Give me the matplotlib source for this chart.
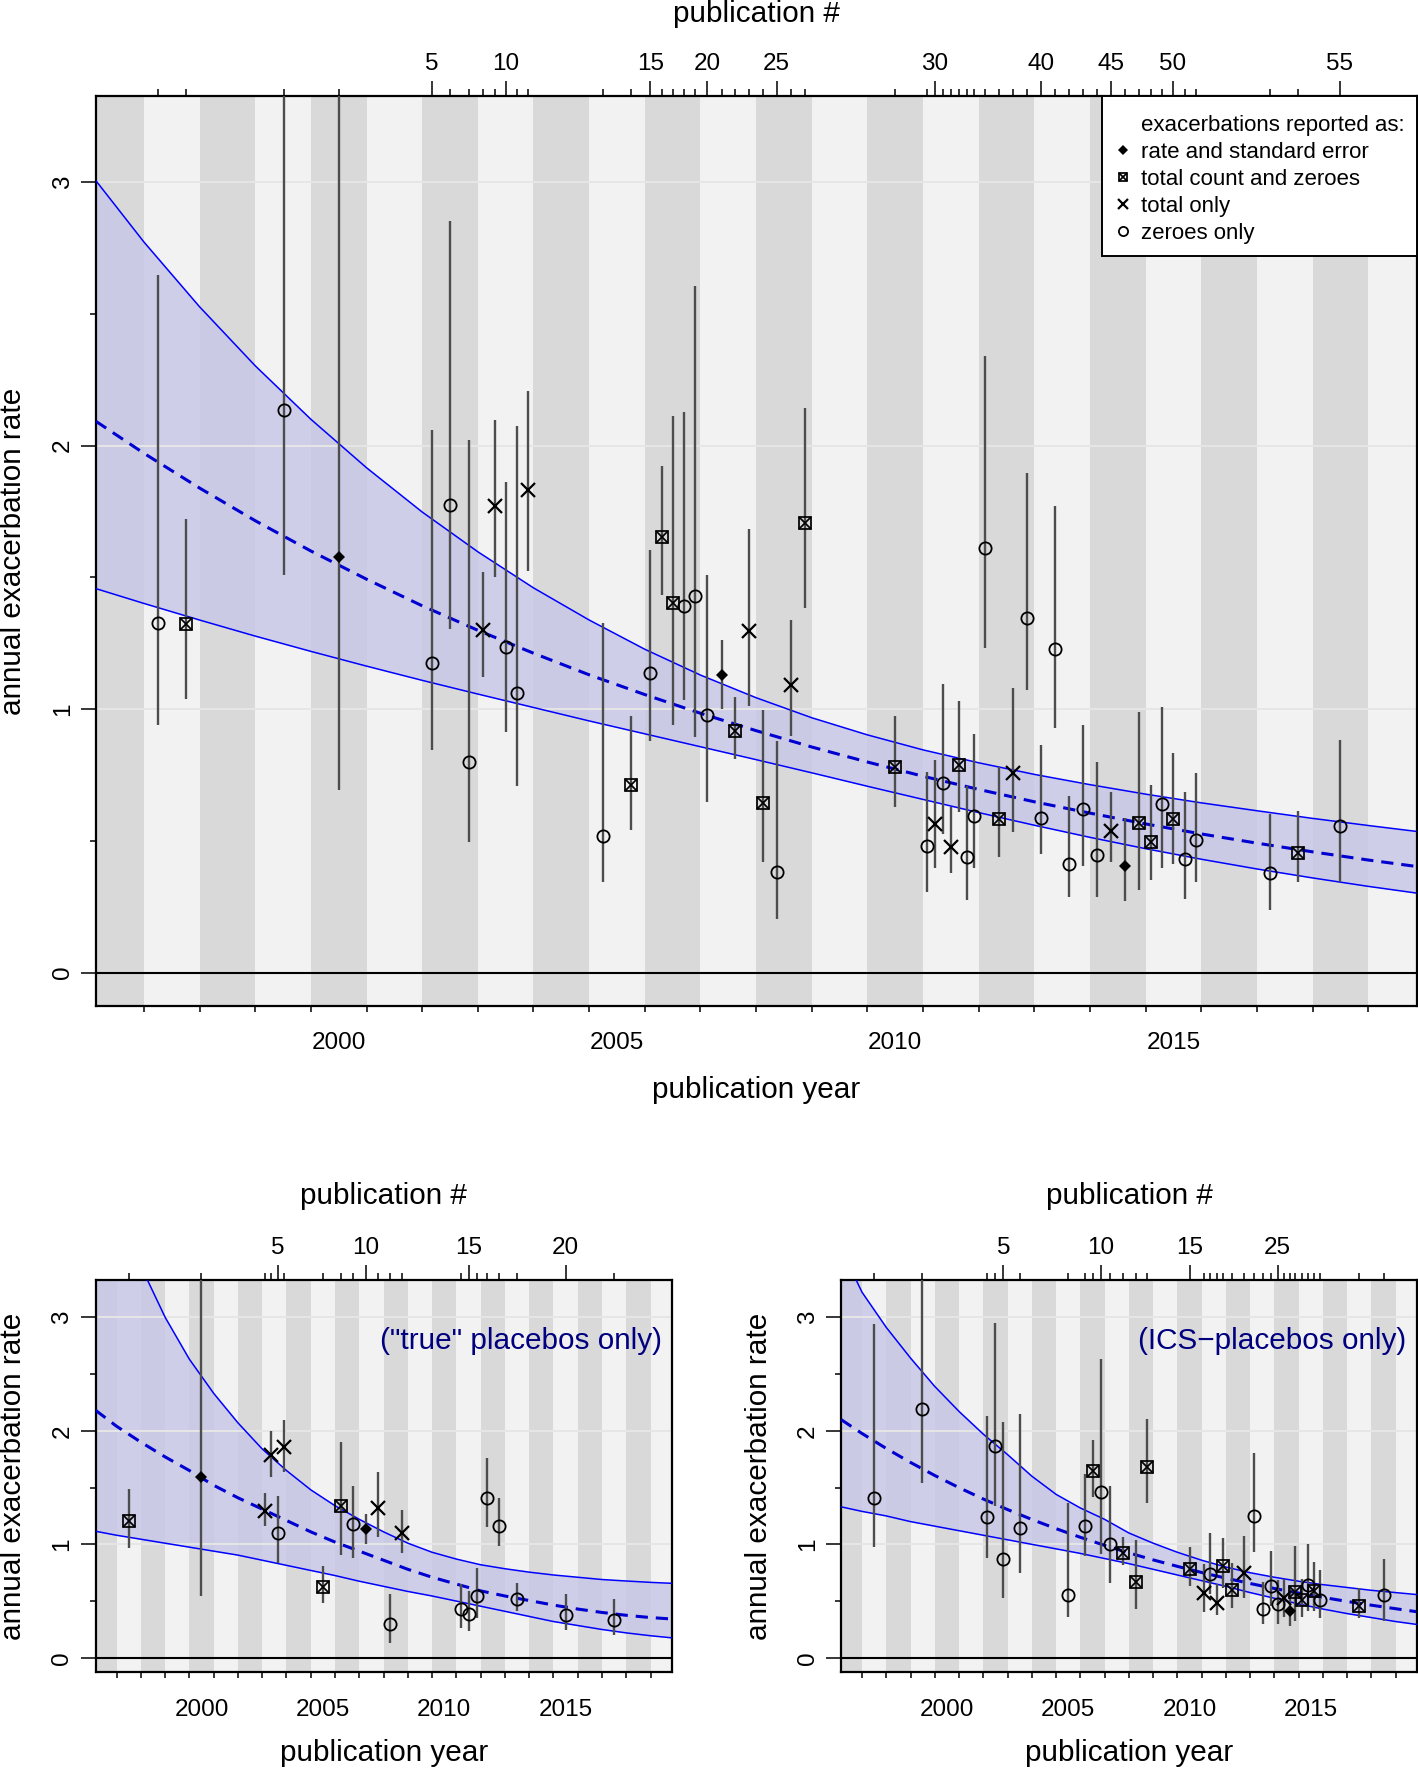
import matplotlib
matplotlib.use("Agg")
import matplotlib.pyplot as plt
from matplotlib.lines import Line2D
from matplotlib.patches import Rectangle

plt.rcParams["font.family"] = ["Liberation Sans", "DejaVu Sans"]

curve_year = [1996.14, 1997, 1998, 1999, 2000, 2001, 2002, 2003, 2004, 2005, 2006,
              2007, 2008, 2009, 2010, 2011, 2012, 2013, 2014, 2015, 2016, 2017,
              2018, 2019, 2019.85]

# ---- all placebo arms (top panel) ----
all_year = [1997.26, 1997.75, 1999.51, 2000.50, 2002.17, 2002.50, 2002.84, 2003.10,
            2003.31, 2003.50, 2003.71, 2003.90, 2005.25, 2005.75, 2006.10, 2006.30,
            2006.50, 2006.70, 2006.90, 2007.12, 2007.38, 2007.62, 2007.88, 2008.12,
            2008.37, 2008.62, 2008.88, 2010.50, 2011.07, 2011.21, 2011.36, 2011.50,
            2011.64, 2011.78, 2011.92, 2012.12, 2012.37, 2012.62, 2012.87, 2013.12,
            2013.37, 2013.62, 2013.87, 2014.12, 2014.37, 2014.62, 2014.87, 2015.09,
            2015.30, 2015.49, 2015.70, 2015.90, 2017.24, 2017.74, 2018.49]
all_rate = [1.326, 1.321, 2.134, 1.576, 1.175, 1.776, 0.799, 1.299, 1.771, 1.236, 1.060,
            1.832, 0.520, 0.713, 1.137, 1.654, 1.402, 1.391, 1.431, 0.979, 1.128, 0.918,
            1.296, 0.644, 0.383, 1.092, 1.706, 0.781, 0.479, 0.563, 0.718, 0.477, 0.788,
            0.437, 0.596, 1.612, 0.583, 0.759, 1.344, 0.587, 1.227, 0.412, 0.621, 0.446,
            0.536, 0.405, 0.569, 0.495, 0.641, 0.583, 0.430, 0.502, 0.376, 0.452, 0.558]
all_lo = [0.939, 1.038, 1.508, 0.691, 0.844, 1.303, 0.495, 1.121, 1.501, 0.912, 0.709,
          1.524, 0.344, 0.540, 0.878, 1.434, 0.939, 1.035, 0.894, 0.648, 1.002, 0.810,
          1.013, 0.421, 0.203, 0.896, 1.384, 0.630, 0.304, 0.398, 0.524, 0.376, 0.608,
          0.275, 0.398, 1.233, 0.439, 0.533, 1.074, 0.450, 0.930, 0.288, 0.405, 0.288,
          0.421, 0.270, 0.315, 0.353, 0.398, 0.412, 0.281, 0.342, 0.236, 0.344, 0.342]
all_hi = [2.649, 1.722, 3.900, 3.900, 2.059, 2.852, 2.021, 1.519, 2.098, 1.861, 2.075,
          2.208, 1.328, 0.975, 1.605, 1.924, 2.111, 2.127, 2.604, 1.508, 1.263, 1.044,
          1.684, 0.997, 0.878, 1.339, 2.143, 0.975, 0.763, 0.808, 1.096, 0.630, 1.029,
          0.709, 0.905, 2.341, 0.781, 1.080, 1.897, 0.862, 1.771, 0.671, 0.939, 0.799,
          0.686, 0.585, 0.988, 0.713, 1.008, 0.833, 0.686, 0.759, 0.603, 0.612, 0.882]
all_kind = list("obodo" "ooxxo" "oxobo" "bbooo" "dbxbo" "xbbox"
                "oxboo" "obxoo" "oooox" "dbbob" "ooobo")
all_upper = [3.005, 2.773, 2.527, 2.303, 2.100, 1.916, 1.748, 1.597, 1.460, 1.338, 1.227,
             1.129, 1.043, 0.967, 0.902, 0.845, 0.796, 0.752, 0.713, 0.677, 0.644, 0.614,
             0.585, 0.558, 0.536]
all_mid = [2.092, 1.971, 1.839, 1.715, 1.600, 1.493, 1.392, 1.299, 1.212, 1.130, 1.055,
           0.984, 0.918, 0.856, 0.799, 0.745, 0.695, 0.648, 0.605, 0.564, 0.526, 0.491,
           0.458, 0.427, 0.403]
all_lower = [1.457, 1.401, 1.338, 1.277, 1.219, 1.163, 1.109, 1.057, 1.006, 0.955, 0.906,
             0.857, 0.808, 0.758, 0.707, 0.657, 0.607, 0.559, 0.513, 0.470, 0.430, 0.393,
             0.359, 0.327, 0.302]
all_labelled = [5, 10, 15, 20, 25, 30, 40, 45, 50, 55]

# ---- "true" placebos only (bottom left) ----
true_year = [1997.51, 2000.47, 2003.12, 2003.36, 2003.63, 2003.90, 2005.52, 2006.26,
             2006.75, 2007.26, 2007.76, 2008.25, 2008.75, 2011.17, 2011.51, 2011.83,
             2012.26, 2012.74, 2013.49, 2015.50, 2017.51]
true_rate = [1.202, 1.591, 1.297, 1.789, 1.096, 1.857, 0.625, 1.335, 1.179, 1.132, 1.320,
             0.295, 1.099, 0.427, 0.383, 0.545, 1.409, 1.164, 0.522, 0.377, 0.330]
true_lo = [0.967, 0.545, 1.158, 1.597, 0.837, 1.636, 0.486, 0.908, 0.878, 1.002, 1.067,
           0.133, 0.925, 0.265, 0.236, 0.354, 1.149, 0.987, 0.413, 0.242, 0.200]
true_hi = [1.485, 3.900, 1.450, 1.998, 1.426, 2.098, 0.808, 1.898, 1.518, 1.267, 1.633,
           0.566, 1.303, 0.654, 0.589, 0.790, 1.762, 1.409, 0.663, 0.566, 0.516]
true_kind = list("bdxxo" "xbbod" "xoxoo" "oooooo")
true_upper = [4.300, 3.900, 3.450, 3.000, 2.630, 2.330, 2.070, 1.840, 1.650, 1.480, 1.340,
              1.220, 1.110, 1.010, 0.930, 0.870, 0.820, 0.785, 0.755, 0.730, 0.710, 0.690,
              0.677, 0.665, 0.657]
true_mid = [2.180, 2.040, 1.900, 1.770, 1.650, 1.520, 1.410, 1.310, 1.210, 1.110, 1.020,
            0.940, 0.860, 0.780, 0.710, 0.650, 0.590, 0.545, 0.505, 0.465, 0.430, 0.400,
            0.375, 0.355, 0.343]
true_lower = [1.115, 1.080, 1.045, 1.010, 0.975, 0.940, 0.905, 0.860, 0.815, 0.770, 0.725,
              0.675, 0.630, 0.585, 0.545, 0.500, 0.455, 0.410, 0.365, 0.320, 0.285, 0.250,
              0.220, 0.195, 0.177]
true_labelled = [5, 10, 15, 20]

# ---- ICS-placebos only (bottom right) ----
ics_year = [1997.49, 1999.49, 2002.17, 2002.49, 2002.83, 2003.51, 2005.51, 2006.18,
            2006.52, 2006.84, 2007.24, 2007.76, 2008.28, 2008.76, 2010.50, 2011.10,
            2011.36, 2011.63, 2011.87, 2012.24, 2012.76, 2013.16, 2013.51, 2013.85,
            2014.13, 2014.40, 2014.63, 2014.86, 2015.12, 2015.37, 2015.63, 2015.88,
            2017.49, 2018.51]
ics_rate = [1.406, 2.196, 1.244, 1.866, 0.869, 1.144, 0.557, 1.158, 1.645, 1.465, 0.999,
            0.928, 0.672, 1.680, 0.781, 0.569, 0.743, 0.483, 0.805, 0.598, 0.746, 1.250,
            0.427, 0.634, 0.472, 0.525, 0.413, 0.581, 0.507, 0.642, 0.589, 0.507, 0.457,
            0.551]
ics_lo = [0.973, 1.538, 0.884, 1.341, 0.525, 0.749, 0.360, 0.893, 1.421, 0.914, 0.663,
          0.816, 0.433, 1.362, 0.634, 0.404, 0.560, 0.374, 0.619, 0.442, 0.530, 0.934,
          0.295, 0.457, 0.295, 0.360, 0.280, 0.324, 0.360, 0.413, 0.413, 0.348, 0.348,
          0.324]
ics_hi = [2.938, 3.900, 2.131, 2.947, 2.078, 2.151, 1.365, 1.621, 1.916, 2.635, 1.518,
          1.061, 1.040, 2.107, 0.978, 0.831, 1.099, 0.648, 1.055, 0.840, 1.070, 1.807,
          0.672, 0.943, 0.684, 0.693, 0.619, 0.981, 0.693, 1.002, 0.846, 0.772, 0.619,
          0.869]
ics_kind = list("ooooo" "ooobo" "obbbb" "xoxbb" "xoooo" "xdbbo" "bobo")
ics_upper = [3.600, 3.220, 2.910, 2.640, 2.390, 2.170, 1.970, 1.790, 1.600, 1.440, 1.320,
             1.220, 1.100, 1.010, 0.930, 0.860, 0.800, 0.750, 0.710, 0.675, 0.645, 0.620,
             0.595, 0.575, 0.558]
ics_mid = [2.098, 1.976, 1.844, 1.721, 1.606, 1.499, 1.399, 1.306, 1.219, 1.138, 1.062,
           0.991, 0.925, 0.863, 0.806, 0.752, 0.702, 0.655, 0.611, 0.571, 0.533, 0.497,
           0.464, 0.433, 0.407]
ics_lower = [1.330, 1.290, 1.250, 1.200, 1.160, 1.120, 1.080, 1.040, 1.000, 0.960, 0.920,
             0.875, 0.830, 0.780, 0.730, 0.680, 0.630, 0.575, 0.525, 0.475, 0.430, 0.390,
             0.355, 0.320, 0.295]
ics_labelled = [5, 10, 15, 25]

W, H = 1418, 1770
DARK, LIGHT = "#d9d9d9", "#f2f2f2"
BAND = "#c8c8e8"
GRID = "#e6e6e6"
BLUE = "#0000ff"
WHISK = "#4d4d4d"
XLIM = (1996.14, 2019.87)
YLIM = (-0.127, 3.328)
TICK_FS = 17.5
LAB_FS = 21.4

MARK = {
    "d": [dict(marker="D", ms=6.2, mfc="black", mec="black", mew=0)],
    "o": [dict(marker="o", ms=8.8, mfc="none", mec="black", mew=1.3)],
    "x": [dict(marker="x", ms=10.0, mec="black", mew=1.6)],
    "b": [dict(marker="s", ms=8.0, mfc="none", mec="black", mew=1.25),
          dict(marker="x", ms=8.0, mec="black", mew=1.25)],
}


def px(x, y):
    return x / W, 1 - y / H


def panel(ax, year, rate, lo, hi, kind, up, mid, low, labelled):
    ax.set_xlim(*XLIM)
    ax.set_ylim(*YLIM)
    for yr in range(1996, 2020):
        ax.axvspan(yr, yr + 1, color=DARK if yr % 2 == 0 else LIGHT, lw=0, zorder=0)
    ax.fill_between(curve_year, low, up, color=BAND, alpha=0.85, lw=0, zorder=1)
    for g in (1, 2, 3):
        ax.axhline(g, color=GRID, lw=1.4, zorder=1.5)
    ax.axhline(0, color="black", lw=1.5, zorder=2)
    ax.plot(curve_year, up, color=BLUE, lw=1.1, zorder=3)
    ax.plot(curve_year, low, color=BLUE, lw=1.1, zorder=3)
    ax.plot(curve_year, mid, color="#0000d0", lw=2.2, dashes=(4, 2.6), zorder=3)
    ax.vlines(year, lo, hi, color=WHISK, lw=1.7, zorder=4)
    for k, styles in MARK.items():
        xs = [x for x, kk in zip(year, kind) if kk == k]
        ys = [y for y, kk in zip(rate, kind) if kk == k]
        for st in styles:
            ax.plot(xs, ys, ls="none", zorder=5, **st)

    ax.set_xticks([2000.5, 2005.5, 2010.5, 2015.5])
    ax.set_xticklabels(["2000", "2005", "2010", "2015"])
    ax.set_xticks(range(1997, 2020), minor=True)
    ax.tick_params(axis="x", which="major", length=0, pad=19, labelsize=TICK_FS)
    ax.tick_params(axis="x", which="minor", length=4.3, width=1.1)
    ax.set_yticks([0, 1, 2, 3])
    ax.set_yticks([0.5, 1.5, 2.5], minor=True)
    ax.tick_params(axis="y", which="major", length=11, width=1.1, pad=5,
                   labelsize=TICK_FS, labelrotation=90)
    ax.tick_params(axis="y", which="minor", length=4, width=1.1)
    for lab in ax.get_yticklabels():
        lab.set_va("center")
    for s in ax.spines.values():
        s.set_linewidth(1.6)

    top = ax.twiny()
    top.set_xlim(*XLIM)
    idx = [i - 1 for i in labelled]
    top.set_xticks([year[i] for i in idx])
    top.set_xticklabels([str(i) for i in labelled])
    top.set_xticks([y for j, y in enumerate(year) if j not in idx], minor=True)
    top.tick_params(which="major", length=11, width=1.1, pad=4, labelsize=TICK_FS)
    top.tick_params(which="minor", length=5, width=1.1)
    for s in top.spines.values():
        s.set_visible(False)
    return top


fig = plt.figure(figsize=(W / 100, H / 100), dpi=100)

ax_all = fig.add_axes([96 / W, 1 - 1006 / H, 1320.8 / W, 910.3 / H])
panel(ax_all, all_year, all_rate, all_lo, all_hi, all_kind,
      all_upper, all_mid, all_lower, all_labelled)

ax_true = fig.add_axes([95.7 / W, 1 - 1672.3 / H, 576 / W, 392.3 / H])
panel(ax_true, true_year, true_rate, true_lo, true_hi, true_kind,
      true_upper, true_mid, true_lower, true_labelled)

ax_ics = fig.add_axes([841.2 / W, 1 - 1672.3 / H, 575.6 / W, 392.3 / H])
panel(ax_ics, ics_year, ics_rate, ics_lo, ics_hi, ics_kind,
      ics_upper, ics_mid, ics_lower, ics_labelled)

# legend of the top panel: white box drawn by hand, entries as a frameless legend
box = Rectangle(px(1101.6, 256.3), (1417 - 1101.6) / W, (256.3 - 95.7) / H,
                transform=fig.transFigure, facecolor="white", edgecolor="black",
                lw=1.4, zorder=5)
fig.add_artist(box)
h_title = Line2D([], [], ls="none")
h_d = Line2D([], [], ls="none", **MARK["d"][0])
h_b = tuple(Line2D([], [], ls="none", **st) for st in MARK["b"])
h_x = Line2D([], [], ls="none", **MARK["x"][0])
h_o = Line2D([], [], ls="none", **MARK["o"][0])
leg = fig.legend([h_title, h_d, h_b, h_x, h_o],
                 ["exacerbations reported as:", "rate and standard error",
                  "total count and zeroes", "total only", "zeroes only"],
                 loc="upper left", bbox_to_anchor=px(1114, 114.8), frameon=False,
                 borderpad=0, borderaxespad=0, fontsize=16, handlelength=0.8,
                 handletextpad=0.4, labelspacing=0.27, markerscale=0.75)
leg.set_zorder(6)

ax_true.text(0.9825, 0.8445, '("true" placebos only)', transform=ax_true.transAxes,
             ha="right", va="center", fontsize=LAB_FS, color="#00007f", zorder=6)
ax_ics.text(0.9825, 0.8445, "(ICS\u2212placebos only)", transform=ax_ics.transAxes,
            ha="right", va="center", fontsize=LAB_FS, color="#00007f", zorder=6)

for cx, ytop, ybot in [(756, 13.5, 1089.5), (383.7, 1195.6, 1753.4), (1129, 1195.6, 1753.4)]:
    fig.text(*px(cx, ytop), "publication #", ha="center", va="center", fontsize=LAB_FS)
    fig.text(*px(cx, ybot), "publication year", ha="center", va="center", fontsize=LAB_FS)
for cx, cy in [(13.5, 551), (13.5, 1476), (758.7, 1476)]:
    fig.text(*px(cx, cy), "annual exacerbation rate", rotation=90,
             ha="center", va="center", fontsize=LAB_FS)

fig.savefig("out.png", dpi=100)
